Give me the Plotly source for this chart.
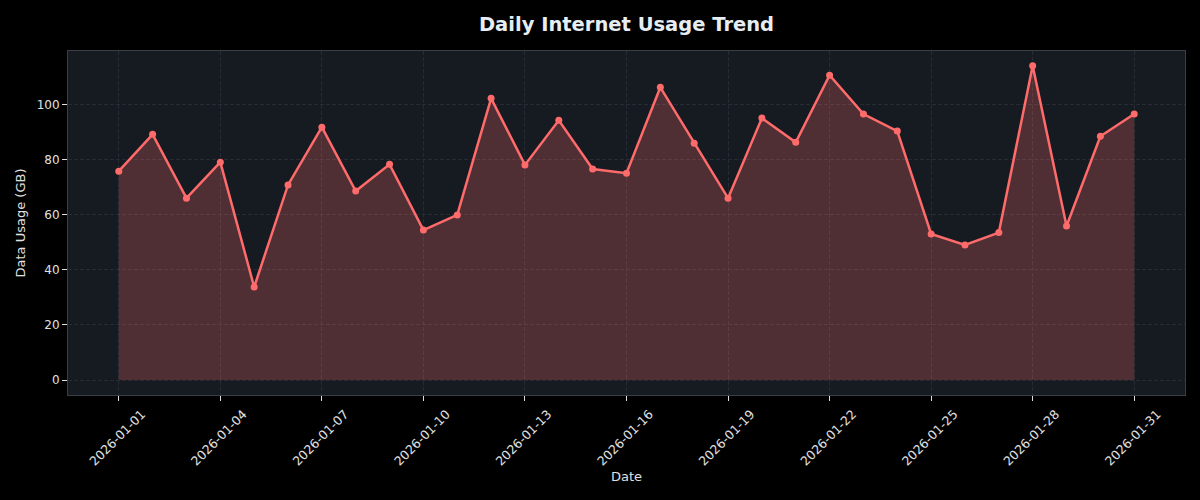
import plotly.graph_objects as go
import pandas as pd

dates = pd.date_range("2026-01-01", "2026-01-31", freq="D").strftime("%Y-%m-%d").tolist()
usage_gb = [75.9, 89.3, 66.1, 79.2, 33.8, 70.9, 91.9, 68.7, 78.4, 54.5,
            60.0, 102.4, 78.2, 94.4, 76.7, 75.2, 106.4, 86.1, 66.1, 95.2,
            86.4, 110.8, 96.7, 90.5, 53.1, 49.1, 53.6, 114.2, 56.0, 88.6, 96.7]
tick_dates = dates[::3]

LINE = "#ff6b6b"
TEXT = "#e0e0e0"
GRID = "#272c34"
font_family = "DejaVu Sans, sans-serif"

fig = go.Figure()
fig.add_trace(go.Scatter(
    x=dates, y=usage_gb, mode="lines+markers",
    line=dict(color=LINE, width=2.5),
    marker=dict(color=LINE, size=7),
    fill="tozeroy", fillcolor="rgba(255,107,107,0.25)",
    showlegend=False,
))

fig.update_layout(
    width=1200, height=500,
    paper_bgcolor="#000000", plot_bgcolor="#161b22",
    margin=dict(l=68, r=15, t=51, b=105),
    font=dict(family=font_family, color=TEXT, size=12),
    title=dict(text="<b>Daily Internet Usage Trend</b>", x=0.5, xref="paper", xanchor="center",
               y=0.952, yanchor="middle",
               font=dict(size=19.5, color="#e6edf3", family=font_family)),
)
fig.update_xaxes(
    type="date",
    range=["2025-12-30 12:00", "2026-02-01 12:00"],
    tickmode="array", tickvals=tick_dates, ticktext=tick_dates,
    tickangle=-45, tickfont=dict(size=12.5, color=TEXT),
    ticklabelshift=23, ticklabelstandoff=1,
    ticks="outside", ticklen=5, tickcolor=TEXT,
    showgrid=True, gridcolor=GRID, griddash="4px,2px", gridwidth=1,
    showline=True, linecolor="#3a3f46", mirror=True, linewidth=1,
    zeroline=False,
    title=dict(text="Date", font=dict(size=13, color=TEXT), standoff=3),
)
fig.update_yaxes(
    range=[-5.45, 119.6],
    tickmode="array", tickvals=[0, 20, 40, 60, 80, 100],
    tickfont=dict(size=12, color=TEXT),
    ticks="outside", ticklen=5, tickcolor=TEXT,
    showgrid=True, gridcolor=GRID, griddash="4px,2px", gridwidth=1,
    showline=True, linecolor="#3a3f46", mirror=True, linewidth=1,
    zeroline=False,
    title=dict(text="Data Usage (GB)", font=dict(size=13, color=TEXT), standoff=8),
)

fig.write_html("out.html",
               config={"displayModeBar": False},
               post_script="document.body.style.margin='0';document.body.style.background='#000';")
